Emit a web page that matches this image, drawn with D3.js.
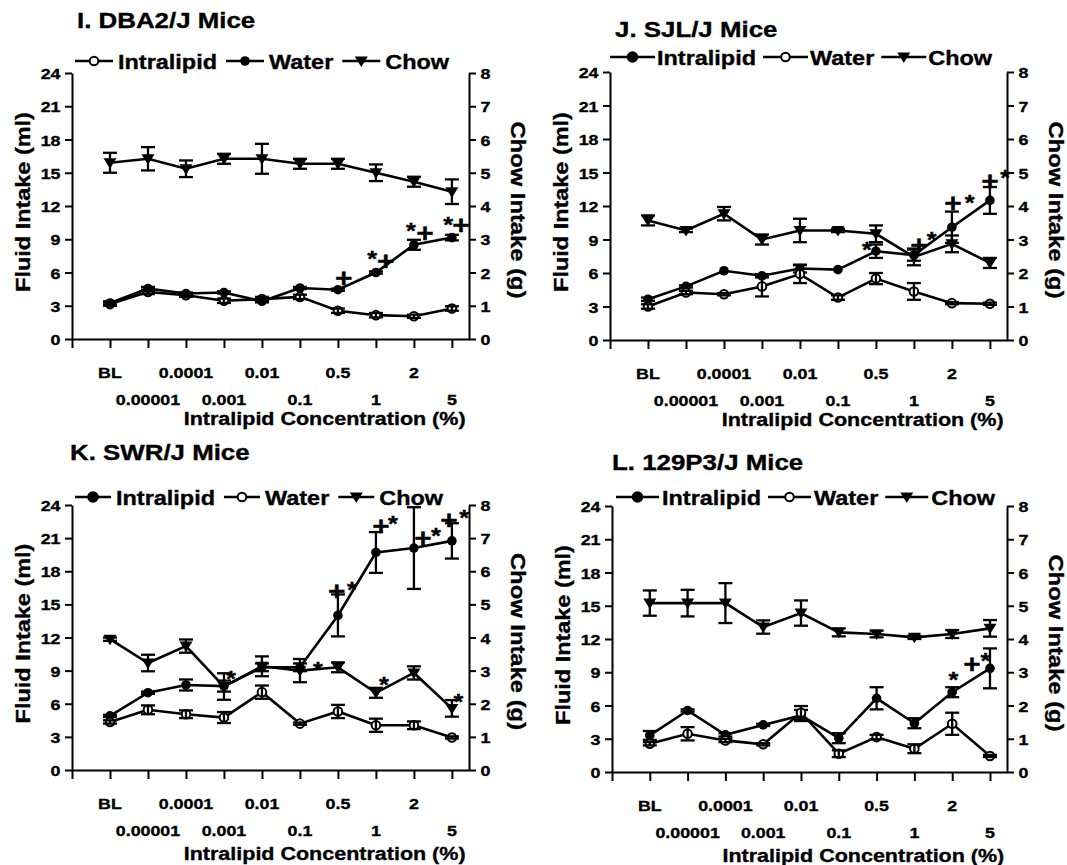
<!DOCTYPE html>
<html lang="en">
<head>
<meta charset="UTF-8">
<title>Intralipid intake by strain</title>
<script src="https://d3js.org/d3.v7.min.js"></script>
<style>
    body { margin: 0; background: #fff; }
    svg text { font-family: "Liberation Sans", Arial, Helvetica, sans-serif; font-weight: bold; fill: #000;
               stroke: #000; stroke-width: 0.35px; }
</style>
</head>
<body>
<svg id="fig" width="1067" height="865"></svg>
<script>
// ---- data ----
const categories = ["BL", "0.00001", "0.0001", "0.001", "0.01", "0.1", "0.5", "1", "2", "5"];
const fluidTicks = [0, 3, 6, 9, 12, 15, 18, 21, 24];
const chowTicks = [0, 1, 2, 3, 4, 5, 6, 7, 8];
const legendLabels = ["Intralipid", "Water", "Chow"];
const xTitle = "Intralipid Concentration (%)";
const leftTitle = "Fluid Intake (ml)";
const rightTitle = "Chow Intake (g)";
const titles = ["I. DBA2/J Mice", "J. SJL/J Mice", "K. SWR/J Mice", "L. 129P3/J Mice"];

// I. DBA2/J  (ml / g)
const dbaIntralipid = [3.15, 4.25, 3.95, 3.45, 3.6, 3.8, 2.55, 2.15, 2.05, 2.75];
const dbaIntralipidSem = [0.15, 0.2, 0.15, 0.2, 0.2, 0.2, 0.2, 0.2, 0.15, 0.2];
const dbaWater = [3.25, 4.55, 4.1, 4.2, 3.4, 4.6, 4.45, 6.0, 8.5, 9.15];
const dbaWaterSem = [0.15, 0.15, 0.1, 0.1, 0.1, 0.1, 0.1, 0.1, 0.45, 0.25];
const dbaChow = [5.3, 5.42, 5.12, 5.42, 5.42, 5.27, 5.27, 5.0, 4.73, 4.43];
const dbaChowSem = [0.3, 0.35, 0.25, 0.15, 0.45, 0.15, 0.15, 0.25, 0.15, 0.37];
// [category index, offset, ml, symbol]
const dbaMarks = [[6, 0.15, 5.55, "+"], [7, -0.1, 7.76, "*"], [7, 0.26, 7.04, "+"],
                  [8, -0.08, 10.3, "*"], [8, 0.29, 9.57, "+"], [9, -0.1, 10.83, "*"], [9, 0.24, 10.3, "+"]];

// J. SJL/J
const sjlIntralipid = [3.65, 4.8, 6.2, 5.75, 6.4, 6.3, 7.95, 7.6, 10.1, 12.5];
const sjlIntralipidSem = [0.15, 0.1, 0, 0.15, 0.35, 0, 0.6, 0.5, 1.4, 1.2];
const sjlWater = [3.0, 4.25, 4.1, 4.8, 5.9, 3.8, 5.5, 4.35, 3.3, 3.25];
const sjlWaterSem = [0.2, 0.15, 0.1, 0.9, 0.8, 0.2, 0.5, 0.75, 0.1, 0.1];
const sjlChow = [3.57, 3.27, 3.77, 3.0, 3.27, 3.27, 3.17, 2.48, 2.87, 2.3];
const sjlChowSem = [0.15, 0.05, 0.2, 0.15, 0.35, 0.05, 0.25, 0.25, 0.25, 0.15];
const sjlMarks = [[6, -0.24, 8.55, "*"], [7, 0.13, 8.55, "+"], [7, 0.47, 9.5, "*"],
                  [8, 0.03, 12.26, "+"], [8, 0.47, 12.8, "*"], [9, 0.0, 14.3, "+"], [9, 0.4, 15.0, "*"]];

// K. SWR/J
const swrIntralipid = [4.9, 7.0, 7.7, 7.6, 9.3, 9.3, 14.0, 19.7, 20.1, 20.75];
const swrIntralipidSem = [0.1, 0.1, 0.5, 0.5, 0.35, 0.35, 1.9, 1.85, 3.7, 1.6];
const swrWater = [4.35, 5.45, 5.05, 4.75, 7.05, 4.2, 5.3, 4.05, 4.05, 2.95];
const swrWaterSem = [0.15, 0.4, 0.35, 0.5, 0.6, 0.1, 0.6, 0.6, 0.35, 0.1];
const swrChow = [3.95, 3.23, 3.74, 2.52, 3.13, 3.0, 3.1, 2.33, 2.93, 1.86];
const swrChowSem = [0.05, 0.25, 0.2, 0.4, 0.3, 0.35, 0.15, 0.15, 0.2, 0.25];
const swrMarks = [[6, -0.03, 16.25, "+"], [6, 0.37, 16.8, "*"], [7, 0.13, 22.1, "+"], [7, 0.45, 22.8, "*"],
                  [8, 0.24, 21.0, "+"], [8, 0.58, 21.7, "*"], [9, -0.08, 22.65, "+"], [9, 0.32, 23.3, "*"],
                  [3, 0.18, 8.75, "*"], [5, 0.47, 9.57, "*"], [7, 0.21, 8.2, "*"], [9, 0.17, 6.7, "*"]];

// L. 129P3/J
const p129Intralipid = [3.3, 5.55, 3.35, 4.25, 5.1, 3.05, 6.65, 4.4, 7.2, 9.35];
const p129IntralipidSem = [0.4, 0.1, 0.15, 0.1, 0.5, 0.45, 1.0, 0.45, 0.45, 1.8];
const p129Water = [2.55, 3.45, 2.85, 2.5, 5.35, 1.65, 3.15, 2.1, 4.35, 1.45];
const p129WaterSem = [0.15, 0.6, 0.15, 0.1, 0.6, 0.3, 0.2, 0.4, 1.0, 0.1];
const p129Chow = [5.08, 5.08, 5.08, 4.36, 4.78, 4.2, 4.15, 4.05, 4.15, 4.32];
const p129ChowSem = [0.38, 0.4, 0.6, 0.2, 0.38, 0.12, 0.1, 0.05, 0.12, 0.25];
const p129Marks = [[8, 0.03, 8.85, "*"], [9, -0.48, 9.75, "+"], [9, -0.12, 10.56, "*"]];

// ---- layout ----
const SX = 1.15;   // glyphs in the figure are wider than Arial
const svg = d3.select("#fig");

const panels = [
    { title: titles[0], tx: 77, ty: 28, lx: 75, ly: 61, seg: 38, gapT: 5, gapN: 9, bigDot: false,
      xL: 72, xR: 469, yTop: 73, y0: 339, titleDy: 86,
      series: [
        { values: dbaIntralipid, sem: dbaIntralipidSem, type: "open", axis: "fluid" },
        { values: dbaWater, sem: dbaWaterSem, type: "filled", axis: "fluid" },
        { values: dbaChow, sem: dbaChowSem, type: "tri", axis: "chow" }],
      marks: dbaMarks },
    { title: titles[1], tx: 615, ty: 37, lx: 610, ly: 57, seg: 45, gapT: 2, gapN: 7, bigDot: true,
      xL: 610, xR: 1007, yTop: 72, y0: 340, titleDy: 86,
      series: [
        { values: sjlIntralipid, sem: sjlIntralipidSem, type: "filled", axis: "fluid" },
        { values: sjlWater, sem: sjlWaterSem, type: "open", axis: "fluid" },
        { values: sjlChow, sem: sjlChowSem, type: "tri", axis: "chow" }],
      marks: sjlMarks },
    { title: titles[2], tx: 70, ty: 460, lx: 75, ly: 497, seg: 36, gapT: 5, gapN: 9, bigDot: true,
      xL: 72, xR: 469, yTop: 505, y0: 770, titleDy: 90,
      series: [
        { values: swrIntralipid, sem: swrIntralipidSem, type: "filled", axis: "fluid" },
        { values: swrWater, sem: swrWaterSem, type: "open", axis: "fluid" },
        { values: swrChow, sem: swrChowSem, type: "tri", axis: "chow" }],
      marks: swrMarks },
    { title: titles[3], tx: 612, ty: 470, lx: 616, ly: 497, seg: 43, gapT: 3, gapN: 7, bigDot: true,
      xL: 612, xR: 1007, yTop: 506, y0: 772, titleDy: 90,
      series: [
        { values: p129Intralipid, sem: p129IntralipidSem, type: "filled", axis: "fluid" },
        { values: p129Water, sem: p129WaterSem, type: "open", axis: "fluid" },
        { values: p129Chow, sem: p129ChowSem, type: "tri", axis: "chow" }],
      marks: p129Marks }
];

function label(g, x, y, s, size, anchor, rot) {
    return g.append("text")
        .attr("transform", `translate(${x},${y})${rot ? ` rotate(${rot})` : ""} scale(${SX},1)`)
        .attr("font-size", size)
        .attr("text-anchor", anchor || "start")
        .text(s);
}

function marker(g, type, x, y, big) {
    if (type === "tri") {
        g.append("path").attr("d", `M${x - 6.5},${y - 4.5}L${x + 6.5},${y - 4.5}L${x},${y + 6}Z`).attr("fill", "#000");
    } else if (type === "filled") {
        g.append("circle").attr("cx", x).attr("cy", y).attr("r", big ? 5.8 : 4.8).attr("fill", "#000");
    } else {
        g.append("circle").attr("cx", x).attr("cy", y).attr("r", 4.3)
            .attr("fill", "#fff").attr("stroke", "#000").attr("stroke-width", 2);
    }
}

function drawPanel(p) {
    const g = svg.append("g");
    const x = d3.scaleLinear().domain([-1, 9.45]).range([p.xL, p.xR]);
    const yF = d3.scaleLinear().domain([0, 24]).range([p.y0, p.yTop]);
    const yC = d3.scaleLinear().domain([0, 8]).range([p.y0, p.yTop]);

    // title
    label(g, p.tx, p.ty, p.title, 22.5);

    // axes
    const left = g.append("g").attr("transform", `translate(${p.xL},0)`)
        .call(d3.axisLeft(yF).tickValues(fluidTicks).tickSize(7).tickSizeOuter(0).tickPadding(3));
    const right = g.append("g").attr("transform", `translate(${p.xR},0)`)
        .call(d3.axisRight(yC).tickValues(chowTicks).tickSize(7).tickSizeOuter(0).tickPadding(3));
    const bottom = g.append("g").attr("transform", `translate(0,${p.y0})`)
        .call(d3.axisBottom(x).tickValues(d3.range(-1, 10)).tickFormat("").tickSize(9).tickSizeOuter(0));
    [left, right, bottom].forEach(a => {
        a.selectAll("path, line").attr("stroke", "#000").attr("stroke-width", 2);
        a.selectAll("text").attr("font-size", 15.5).attr("fill", "#000")
            .attr("font-family", null).attr("dy", "0.36em");
    });
    left.selectAll(".tick text").attr("transform", `scale(${SX},1)`);
    right.selectAll(".tick text").attr("transform", `scale(${SX},1)`);

    // two-row category labels
    categories.forEach((c, i) => {
        label(g, x(i), p.y0 + (i % 2 === 0 ? 38.5 : 65.5), c, 15.5, "middle");
    });
    label(g, x(5.65), p.y0 + p.titleDy, xTitle, 18.7, "middle");
    label(g, p.xL - 42, (p.y0 + p.yTop) / 2 - 4, leftTitle, 20.4, "middle", -90);
    label(g, p.xR + 42, (p.y0 + p.yTop) / 2 + 4, rightTitle, 20.7, "middle", 90);

    // series
    p.series.forEach(s => {
        const y = s.axis === "fluid" ? yF : yC;
        const line = d3.line().x((d, i) => x(i)).y(d => y(d));
        g.append("path").datum(s.values).attr("d", line)
            .attr("fill", "none").attr("stroke", "#000").attr("stroke-width", 2.6);
    });
    p.series.forEach(s => {
        const y = s.axis === "fluid" ? yF : yC;
        s.values.forEach((v, i) => {
            marker(g, s.type, x(i), y(v), false);
            const e = s.sem[i];
            if (e > 0) {
                const eb = g.append("g").attr("stroke", "#000").attr("stroke-width", 2.3);
                eb.append("line").attr("x1", x(i)).attr("x2", x(i)).attr("y1", y(v - e)).attr("y2", y(v + e));
                [v - e, v + e].forEach(t => eb.append("line")
                    .attr("x1", x(i) - 7).attr("x2", x(i) + 7).attr("y1", y(t)).attr("y2", y(t)));
            }
        });
    });

    // significance marks
    p.marks.forEach(([i, off, v, s]) => {
        const fs = s === "+" ? 26 : 22;
        label(g, x(i + off), yF(v) + (s === "+" ? 0.36 : 0.58) * fs, s, fs, "middle")
            .attr("stroke-width", s === "+" ? 0.8 : 0.35);
    });

    // legend
    let cx = p.lx;
    legendLabels.forEach((lab, k) => {
        const s = p.series[k];
        g.append("line").attr("x1", cx).attr("x2", cx + p.seg).attr("y1", p.ly).attr("y2", p.ly)
            .attr("stroke", "#000").attr("stroke-width", 2.6);
        marker(g, s.type, cx + p.seg / 2, p.ly, p.bigDot);
        cx += p.seg + p.gapT;
        const t = label(g, cx, p.ly + 7.5, lab, 20.4);
        cx += t.node().getComputedTextLength() * SX + p.gapN;
    });
}

panels.forEach(drawPanel);
</script>
</body>
</html>
